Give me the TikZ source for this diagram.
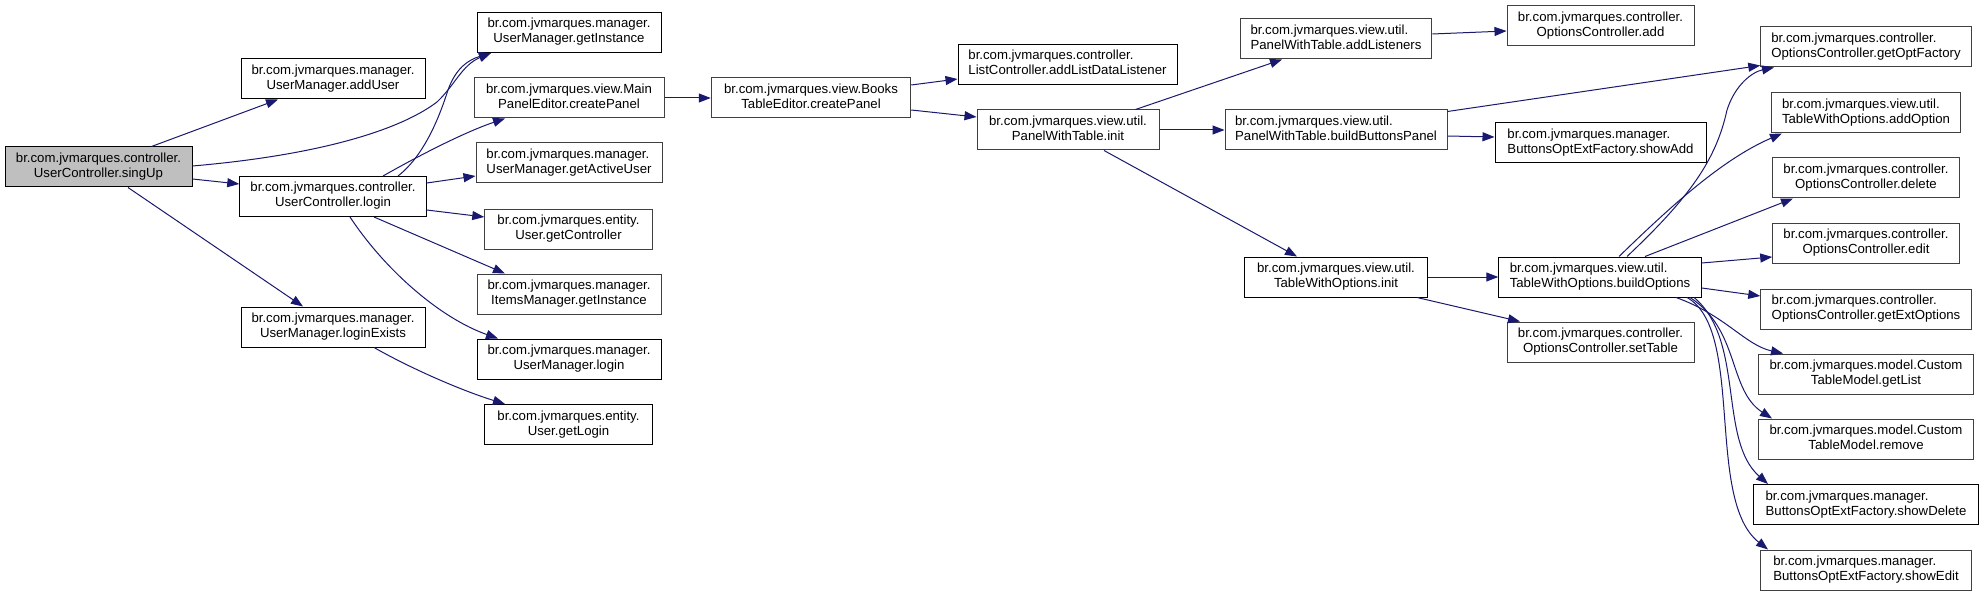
\documentclass[tikz,border=0pt]{standalone}
\usepackage{fontspec}
\setmainfont{Liberation Sans}
\usetikzlibrary{arrows.meta}
\definecolor{edgeblue}{HTML}{191970}
\definecolor{bordergray}{HTML}{404040}
\definecolor{rootfill}{HTML}{BFBFBF}
\newcommand\twol[2]{\begin{tabular}{@{}c@{}}\multicolumn{1}{@{}l@{}}{#1}\\#2\end{tabular}}
\begin{document}
\begin{tikzpicture}[x=1pt,y=-1pt,
  fn/.style={draw=black, fill=white, line width=1pt, minimum height=40pt, inner xsep=3pt, inner ysep=0pt, font=\fontsize{13.2}{15}\selectfont},
  gb/.style={fn, draw=bordergray},
  root/.style={fn, fill=rootfill},
  call/.style={draw=edgeblue, line width=1pt, -{Triangle[length=12pt,width=9pt]}}]
\fill[white] (0,0) rectangle (1985,596);
\useasboundingbox (0,0) rectangle (1985,596);

% column 0
\node[root, minimum width=187pt] (singup) at (98.5,167) {\twol{br.com.jvmarques.controller.}{UserController.singUp}};
% column 1
\node[fn, minimum width=184pt] (adduser) at (333,79) {\twol{br.com.jvmarques.manager.}{UserManager.addUser}};
\node[fn, minimum width=186.5pt] (uclogin) at (333,196.5) {\twol{br.com.jvmarques.controller.}{UserController.login}};
\node[fn, minimum width=184pt] (loginexists) at (333,327) {\twol{br.com.jvmarques.manager.}{UserManager.loginExists}};
% column 2
\node[fn, minimum width=184pt] (getinst) at (569,32.5) {\twol{br.com.jvmarques.manager.}{UserManager.getInstance}};
\node[gb, minimum width=190pt] (mainpanel) at (569,98) {\twol{br.com.jvmarques.view.Main}{PanelEditor.createPanel}};
\node[gb, minimum width=186pt] (getactive) at (569,163) {\twol{br.com.jvmarques.manager.}{UserManager.getActiveUser}};
\node[gb, minimum width=167.5pt] (getcontroller) at (568.5,229) {\twol{br.com.jvmarques.entity.}{User.getController}};
\node[gb, minimum width=184pt] (itemsmgr) at (569,294) {\twol{br.com.jvmarques.manager.}{ItemsManager.getInstance}};
\node[fn, minimum width=184pt] (umlogin) at (569,359) {\twol{br.com.jvmarques.manager.}{UserManager.login}};
\node[fn, minimum width=167.5pt] (getlogin) at (568.5,424.5) {\twol{br.com.jvmarques.entity.}{User.getLogin}};
% column 3
\node[gb, minimum width=199.5pt] (books) at (811,98) {\twol{br.com.jvmarques.view.Books}{TableEditor.createPanel}};
% column 4
\node[fn, minimum width=219pt] (listener) at (1067.5,64.5) {\twol{br.com.jvmarques.controller.}{ListController.addListDataListener}};
\node[gb, minimum width=182pt] (pwtinit) at (1068,130) {\twol{br.com.jvmarques.view.util.}{PanelWithTable.init}};
% column 5
\node[gb, minimum width=191.5pt] (addlisteners) at (1336,39) {\twol{br.com.jvmarques.view.util.}{PanelWithTable.addListeners}};
\node[gb, minimum width=222pt] (buildbuttons) at (1336,130) {\twol{br.com.jvmarques.view.util.}{PanelWithTable.buildButtonsPanel}};
\node[fn, minimum width=182.5pt] (twoinit) at (1336,277) {\twol{br.com.jvmarques.view.util.}{TableWithOptions.init}};
% column 6
\node[gb, minimum width=187pt] (ocadd) at (1600.5,26) {\twol{br.com.jvmarques.controller.}{OptionsController.add}};
\node[fn, minimum width=211pt] (showadd) at (1600.5,143) {\twol{br.com.jvmarques.manager.}{ButtonsOptExtFactory.showAdd}};
\node[fn, minimum width=202.5pt] (buildopts) at (1600,277) {\twol{br.com.jvmarques.view.util.}{TableWithOptions.buildOptions}};
\node[gb, minimum width=187pt] (settable) at (1600.5,342) {\twol{br.com.jvmarques.controller.}{OptionsController.setTable}};
% column 7
\node[gb, minimum width=210.5pt] (getopt) at (1866,47) {\twol{br.com.jvmarques.controller.}{OptionsController.getOptFactory}};
\node[gb, minimum width=189pt] (addoption) at (1866,113) {\twol{br.com.jvmarques.view.util.}{TableWithOptions.addOption}};
\node[gb, minimum width=186.5pt] (delete) at (1866,178) {\twol{br.com.jvmarques.controller.}{OptionsController.delete}};
\node[gb, minimum width=186.5pt] (edit) at (1866,243) {\twol{br.com.jvmarques.controller.}{OptionsController.edit}};
\node[gb, minimum width=210.5pt] (getext) at (1866,309) {\twol{br.com.jvmarques.controller.}{OptionsController.getExtOptions}};
\node[gb, minimum width=214.5pt] (getlist) at (1866,374) {\twol{br.com.jvmarques.model.Custom}{TableModel.getList}};
\node[gb, minimum width=214.5pt] (remove) at (1866,439) {\twol{br.com.jvmarques.model.Custom}{TableModel.remove}};
\node[fn, minimum width=225pt] (showdelete) at (1866,504.5) {\twol{br.com.jvmarques.manager.}{ButtonsOptExtFactory.showDelete}};
\node[gb, minimum width=210.5pt] (showedit) at (1866,570) {\twol{br.com.jvmarques.manager.}{ButtonsOptExtFactory.showEdit}};

% edges from singUp
\draw[call] ([xshift=53pt]singup.north) -- ([xshift=-55pt]adduser.south);
\draw[call] ([yshift=1pt]singup.east) .. controls (320,155) and (400,130) .. (437,102) .. controls (455,85) and (462,65) .. ([xshift=-78pt]getinst.south);
\draw[call] ([yshift=-12pt]singup.east) -- ([yshift=12.5pt]uclogin.west);
\draw[call] ([xshift=29.5pt]singup.south) -- ([xshift=-30pt]loginexists.north);
% edges from UserController.login
\draw[call] ([xshift=65pt]uclogin.north) .. controls (425,155) and (440,115) .. (448,90) .. controls (456,68) and (468,60) .. ([xshift=-78pt]getinst.south);
\draw[call] ([xshift=50pt]uclogin.north) .. controls (420,155) and (465,132) .. ([xshift=-64pt]mainpanel.south);
\draw[call] ([yshift=13.5pt]uclogin.east) -- ([yshift=-13pt]getactive.west);
\draw[call] ([yshift=-13.5pt]uclogin.east) -- ([yshift=12pt]getcontroller.west);
\draw[call] ([xshift=41pt]uclogin.south) -- ([xshift=-64pt]itemsmgr.north);
\draw[call] ([xshift=17pt]uclogin.south) .. controls (385,270) and (440,318) .. ([xshift=-71pt]umlogin.north);
% loginExists
\draw[call] ([xshift=41pt]loginexists.south) .. controls (410,368) and (460,390) .. ([xshift=-63.5pt]getlogin.north);
% MainPanel / Books
\draw[call] (mainpanel.east) -- (books.west);
\draw[call] ([yshift=13pt]books.east) -- ([yshift=-14.5pt]listener.west);
\draw[call] ([yshift=-12pt]books.east) -- ([yshift=13pt]pwtinit.west);
% PanelWithTable.init
\draw[call] ([xshift=67.5pt]pwtinit.north) -- ([xshift=-54pt]addlisteners.south);
\draw[call] (pwtinit.east) -- (buildbuttons.west);
\draw[call] ([xshift=36pt]pwtinit.south) -- ([xshift=-39pt]twoinit.north);
% column 5 edges
\draw[call] ([yshift=5pt]addlisteners.east) -- ([yshift=-5pt]ocadd.west);
\draw[call] ([yshift=-2pt]buildbuttons.north east) -- ([yshift=2pt]getopt.south west);
\draw[call] ([yshift=-6pt]buildbuttons.east) -- ([yshift=6pt]showadd.west);
\draw[call] (twoinit.east) -- (buildopts.west);
\draw[call] ([xshift=81pt]twoinit.south) -- ([xshift=-80.5pt]settable.north);
% buildOptions fan-out
\draw[call] ([xshift=27pt]buildopts.north) .. controls (1690,197) and (1716,160) .. (1727,110) .. controls (1735,85) and (1752,72) .. ([xshift=-92pt]getopt.south);
\draw[call] ([xshift=19pt]buildopts.north) .. controls (1665,212) and (1720,160) .. ([xshift=-84pt]addoption.south);
\draw[call] ([xshift=45pt]buildopts.north) -- ([xshift=-73pt]delete.south);
\draw[call] ([yshift=14pt]buildopts.east) -- ([yshift=-14pt]edit.west);
\draw[call] ([yshift=-11pt]buildopts.east) -- ([yshift=13pt]getext.west);
\draw[call] ([xshift=76pt]buildopts.south) .. controls (1725,315) and (1745,345) .. ([xshift=-83pt]getlist.north);
\draw[call] ([xshift=90pt]buildopts.south) .. controls (1740,330) and (1728,390) .. ([xshift=-94pt]remove.north);
\draw[call] ([xshift=94pt]buildopts.south) .. controls (1745,340) and (1718,440) .. ([xshift=-98pt]showdelete.north);
\draw[call] ([xshift=87pt]buildopts.south) .. controls (1745,330) and (1705,500) .. ([xshift=-98pt]showedit.north);
\end{tikzpicture}
\end{document}
